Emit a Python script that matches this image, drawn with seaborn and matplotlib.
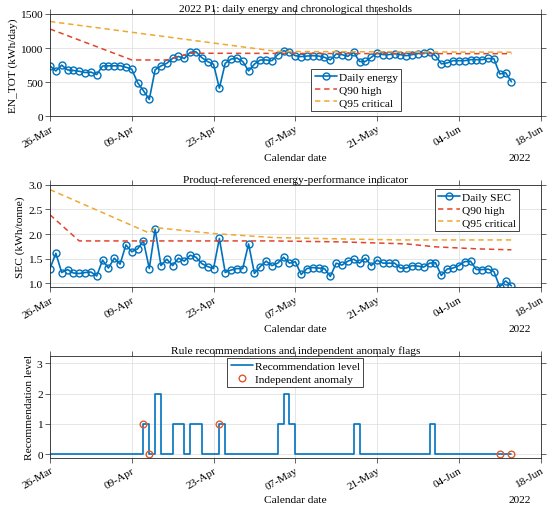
import matplotlib
matplotlib.use('Agg')
import matplotlib.pyplot as plt
import matplotlib.dates as mdates
import pandas as pd
import seaborn as sns

# daily series, 26-Mar-2022 .. 13-Jun-2022
start_date = '2022-03-26'
energy = [738, 665, 750, 680, 672, 660, 642, 648, 612, 737,
          740, 740, 742, 720, 690, 493, 375, 248, 682, 738,
          777, 850, 877, 848, 938, 945, 860, 802, 763, 412,
          777, 838, 855, 804, 665, 765, 826, 826, 816, 904,
          962, 938, 889, 875, 884, 889, 884, 865, 826, 914,
          904, 880, 938, 803, 804, 865, 928, 904, 904, 920,
          904, 889, 904, 920, 928, 938, 889, 770, 782, 816,
          816, 816, 831, 831, 831, 848, 845, 621, 640, 508]
sec = [1.30, 1.61, 1.22, 1.28, 1.21, 1.20, 1.22, 1.23, 1.15, 1.47,
       1.31, 1.51, 1.39, 1.78, 1.64, 1.70, 1.86, 1.30, 2.10, 1.36,
       1.49, 1.36, 1.51, 1.45, 1.57, 1.53, 1.40, 1.34, 1.30, 1.91,
       1.22, 1.27, 1.30, 1.30, 1.80, 1.20, 1.34, 1.45, 1.36, 1.41,
       1.53, 1.41, 1.44, 1.18, 1.30, 1.32, 1.31, 1.30, 1.14, 1.41,
       1.37, 1.45, 1.49, 1.41, 1.51, 1.36, 1.47, 1.41, 1.41, 1.41,
       1.31, 1.31, 1.36, 1.35, 1.33, 1.41, 1.42, 1.16, 1.29, 1.31,
       1.36, 1.44, 1.45, 1.28, 1.28, 1.29, 1.24, 0.93, 1.05, 0.95]
rec_level = [0, 0, 0, 0, 0, 0, 0, 0, 0, 0,
             0, 0, 0, 0, 0, 0, 1, 0, 2, 0,
             0, 1, 1, 0, 1, 1, 0, 0, 0, 1,
             0, 0, 0, 0, 0, 0, 0, 0, 0, 1,
             2, 1, 0, 0, 0, 0, 0, 0, 0, 0,
             0, 0, 1, 0, 0, 0, 0, 0, 0, 0,
             0, 0, 0, 0, 0, 1, 0, 0, 0, 0,
             0, 0, 0, 0, 0, 0, 0, 0, 0, 0]

# thresholds, given at day offsets from start
energy_q90_day = [0, 14, 20, 24, 50, 79]
energy_q90 = [1280, 826, 826, 925, 920, 918]
energy_q95_day = [0, 39, 79]
energy_q95 = [1390, 950, 940]
sec_q90_day = [0, 5, 38, 50, 61, 66, 73, 79]
sec_q90 = [2.39, 1.86, 1.86, 1.84, 1.80, 1.74, 1.70, 1.68]
sec_q95_day = [0, 17, 18, 28, 38, 50, 60, 79]
sec_q95 = [2.90, 2.02, 2.13, 2.01, 1.93, 1.90, 1.88, 1.88]

anomaly_day = [16, 17, 29, 77, 79]
anomaly_level = [1, 0, 1, 0, 0]

tick_dates = pd.to_datetime(['2022-03-26', '2022-04-09', '2022-04-23', '2022-05-07',
                             '2022-05-21', '2022-06-04', '2022-06-18'])

BLUE = '#0072BD'
RED = '#E2442C'
ORANGE = '#EFA830'
ANOM = '#DE5A2E'
DARK = '#262626'

sns.set_theme(style='ticks')
plt.rcParams['font.family'] = ['Liberation Serif', 'DejaVu Serif']
plt.rcParams.update({'font.size': 8.2, 'axes.titlesize': 8.2, 'axes.labelsize': 8.2,
                     'xtick.labelsize': 8.2, 'ytick.labelsize': 8.2, 'legend.fontsize': 8.2,
                     'text.color': 'black', 'axes.labelcolor': 'black'})

dates = pd.date_range(start_date, periods=len(energy), freq='D')
df = pd.DataFrame({'date': dates, 'energy': energy, 'sec': sec, 'level': rec_level})


def knots(days, vals):
    return pd.DataFrame({'date': dates[days], 'v': vals})


def style_axes(ax, ylim, yticks, ylabel, label_x):
    ax.set_xlim(tick_dates[0], tick_dates[-1])
    ax.set_ylim(ylim)
    ax.set_yticks(yticks)
    ax.set_xticks(tick_dates)
    ax.xaxis.set_major_formatter(mdates.DateFormatter('%d-%b'))
    ax.grid(True, color='#DCDCDC', lw=0.5)
    ax.set_axisbelow(True)
    ax.tick_params(direction='out', length=3.3, width=0.5, top=True, right=True,
                   color=DARK, labelcolor='black', pad=2)
    for s in ax.spines.values():
        s.set_visible(True)
        s.set_linewidth(0.6)
        s.set_color(DARK)
    plt.setp(ax.get_xticklabels(), rotation=30, ha='right', va='top', rotation_mode='anchor')
    ax.set_xlabel('Calendar date')
    ax.xaxis.set_label_coords(0.5, -0.36)
    ax.text(0.958, -0.36, '2022', transform=ax.transAxes, ha='center', va='top')
    ax.set_ylabel(ylabel)
    ax.yaxis.set_label_coords(label_x, 0.5)


def add_legend(ax, **kw):
    leg = ax.legend(frameon=True, fancybox=False, edgecolor=DARK, framealpha=1,
                    handlelength=1.95, handletextpad=0.15, borderpad=0.3,
                    labelspacing=0.22, borderaxespad=0, **kw)
    leg.get_frame().set_linewidth(0.6)


fig = plt.figure(figsize=(5.5, 5.1), dpi=100)
ax1 = fig.add_axes([0.0909, 0.770, 0.892, 0.2006])
ax2 = fig.add_axes([0.0909, 0.4347, 0.892, 0.2012])
ax3 = fig.add_axes([0.0909, 0.100, 0.892, 0.2006])

line_kw = dict(marker='o', markersize=5.0, markerfacecolor='none', markeredgecolor=BLUE,
               markeredgewidth=1.0, lw=1.2, color=BLUE, estimator=None)
dash_kw = dict(lw=1.1, dashes=(3.5, 2.5), estimator=None)

# panel 1: energy
sns.lineplot(data=df, x='date', y='energy', ax=ax1, label='Daily energy', **line_kw)
k = knots(energy_q90_day, energy_q90)
sns.lineplot(data=k, x='date', y='v', ax=ax1, color=RED, label='Q90 high', **dash_kw)
k = knots(energy_q95_day, energy_q95)
sns.lineplot(data=k, x='date', y='v', ax=ax1, color=ORANGE, label='Q95 critical', **dash_kw)
ax1.set_title('2022 P1: daily energy and chronological thresholds', pad=2)
style_axes(ax1, (0, 1500), [0, 500, 1000, 1500], 'EN_TOT (kWh/day)', -0.066)
add_legend(ax1, loc='upper left', bbox_to_anchor=(0.533, 0.462))

# panel 2: SEC
sns.lineplot(data=df, x='date', y='sec', ax=ax2, label='Daily SEC', **line_kw)
k = knots(sec_q90_day, sec_q90)
sns.lineplot(data=k, x='date', y='v', ax=ax2, color=RED, label='Q90 high', **dash_kw)
k = knots(sec_q95_day, sec_q95)
sns.lineplot(data=k, x='date', y='v', ax=ax2, color=ORANGE, label='Q95 critical', **dash_kw)
ax2.set_title('Product-referenced energy-performance indicator', pad=2)
style_axes(ax2, (0.92, 3.0), [1, 1.5, 2, 2.5, 3], 'SEC (kWh/tonne)', -0.050)
add_legend(ax2, loc='upper right', bbox_to_anchor=(0.957, 0.958))

# panel 3: rule recommendations
sns.lineplot(data=df, x='date', y='level', ax=ax3, color=BLUE, lw=1.2,
             drawstyle='steps-post', estimator=None, label='Recommendation level')
an = pd.DataFrame({'date': dates[anomaly_day], 'v': anomaly_level})
sns.lineplot(data=an, x='date', y='v', ax=ax3, linestyle='none', marker='o', markersize=4.8,
             markerfacecolor='none', markeredgecolor=ANOM, markeredgewidth=1.0,
             estimator=None, label='Independent anomaly')
ax3.set_title('Rule recommendations and independent anomaly flags', pad=2)
style_axes(ax3, (-0.13, 3.25), [0, 1, 2, 3], 'Recommendation level', -0.033)
add_legend(ax3, loc='upper center', bbox_to_anchor=(0.5, 0.977))

fig.savefig('out.png', dpi=100)
